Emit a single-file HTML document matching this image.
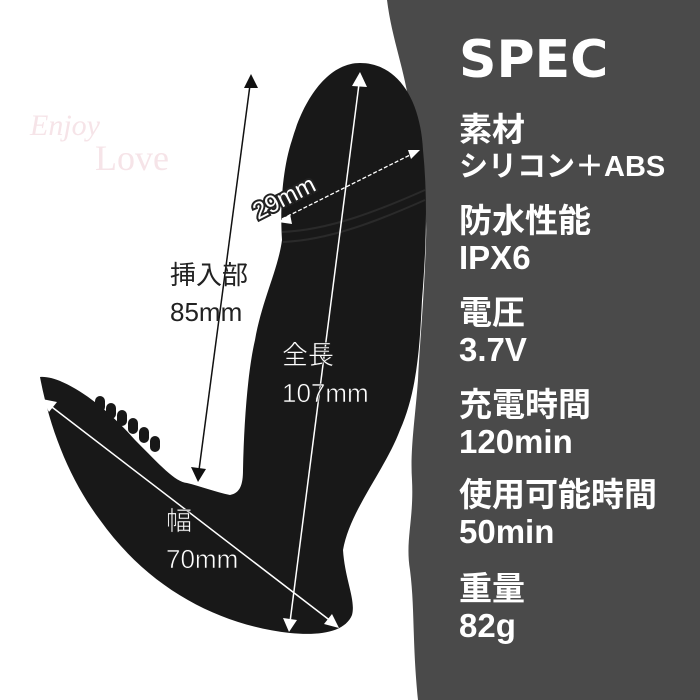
<!DOCTYPE html>
<html><head><meta charset="utf-8"><style>
body{margin:0;width:700px;height:700px;overflow:hidden;background:#fff;font-family:"Liberation Sans","Noto Sans CJK JP",sans-serif}
.spec{position:absolute;left:459px;color:#fff;font-weight:bold;font-family:"Liberation Sans","Noto Sans CJK JP",sans-serif;white-space:nowrap}
.l{font-size:33px;line-height:36px}
</style></head><body>
<svg width="700" height="700" style="position:absolute;left:0;top:0">
<path d="M387,0 C392,40 405,70 410,110 C415,160 428,190 426,240 C424,300 420,340 418,380 C415,420 410,450 412,480 C414,520 405,540 410,570 C415,610 412,640 418,700 L700,700 L700,0 Z" fill="#4a4a4a"/>
<text x="30" y="135" font-family="Liberation Serif,serif" font-size="30" fill="#f6e4e8" font-style="italic">Enjoy</text>
<text x="95" y="170" font-family="Liberation Serif,serif" font-size="36" fill="#f6e4e8">Love</text>
<path d="M360,63 C395,63 420,95 423,150 C428,200 426,250 422,300 C420,340 418,390 400,430 C385,470 350,510 343,550 C345,580 356,600 352,615 C345,632 320,636 290,633 C220,625 150,590 100,520 C70,480 50,430 40,377 C60,375 100,400 135,440 C160,465 175,482 187,483 C200,486 215,492 230,495 C240,493 243,485 243,470 C244,420 248,370 255,340 C262,300 278,270 282,240 C280,210 282,170 292,140 C305,95 330,63 360,63 Z" fill="#181818"/>
<g fill="#181818"><rect x="95" y="396" width="10" height="16" rx="5"/><rect x="106" y="403" width="10" height="16" rx="5"/><rect x="117" y="410" width="10" height="16" rx="5"/><rect x="128" y="418" width="10" height="16" rx="5"/><rect x="139" y="427" width="10" height="16" rx="5"/><rect x="150" y="436" width="10" height="16" rx="5"/></g>
<g stroke="#2a2a2a" stroke-width="2" fill="none"><path d="M282,232 C330,230 380,210 425,190"/><path d="M283,242 C330,240 380,220 425,200"/></g>
<line x1="250" y1="85" x2="199" y2="470" stroke="#111" stroke-width="1.5"/>
<path d="M251,74 L244,88 L258,88 Z M198,482 L191,467 L206,469 Z" fill="#111"/>
<g stroke="#fff" stroke-width="1.5"><line x1="359" y1="84" x2="290" y2="622"/><line x1="48" y1="404" x2="332" y2="622"/></g>
<line x1="282" y1="219" x2="414" y2="153" stroke="#fff" stroke-width="1.3" stroke-dasharray="4,2"/>
<path d="M360,72 L352,86 L367,87 Z M289,632 L283,618 L297,620 Z M42,399 L57,402 L49,412 Z M339,628 L324,624 L332,614 Z M278,222 L290,214 L292,224 Z M420,150 L408,150 L411,159 Z" fill="#fff"/>
<g font-size="26" fill="#fff" stroke="#222" stroke-width="0.6">
<text x="170" y="284" fill="#222" stroke="none">挿入部</text>
<text x="170" y="321" fill="#222" stroke="none">85mm</text>
<text x="282" y="364">全長</text>
<text x="282" y="402">107mm</text>
<text x="166" y="530">幅</text>
<text x="166" y="568">70mm</text>
<text x="258" y="220" transform="rotate(-27 258 220)" stroke="#222" stroke-width="4" paint-order="stroke" font-size="24">29mm</text>
</g>
</svg>
<div class="spec" style="top:30px;font-size:52px;line-height:60px;font-family:'DejaVu Sans',sans-serif">SPEC</div>
<div class="spec l" style="top:112px">素材</div>
<div class="spec l" style="top:149px;font-size:29px">シリコン＋ABS</div>
<div class="spec l" style="top:203px">防水性能</div>
<div class="spec l" style="top:240px">IPX6</div>
<div class="spec l" style="top:295px">電圧</div>
<div class="spec l" style="top:332px">3.7V</div>
<div class="spec l" style="top:387px">充電時間</div>
<div class="spec l" style="top:424px">120min</div>
<div class="spec l" style="top:477px">使用可能時間</div>
<div class="spec l" style="top:514px">50min</div>
<div class="spec l" style="top:571px">重量</div>
<div class="spec l" style="top:608px">82g</div>
</body></html>
